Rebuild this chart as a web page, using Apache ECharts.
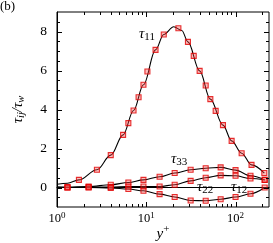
<!DOCTYPE html>
<html><head><meta charset="utf-8">
<script src="https://cdn.jsdelivr.net/npm/echarts@6/dist/echarts.min.js"></script>
<style>html,body{margin:0;padding:0;background:#fff}#c{width:273px;height:243px}</style>
</head><body><div id="c"></div>
<script>
// ---- data ----
const t11LineX = [1, 1.31, 1.76, 2.8, 4.0, 5.5, 7.2, 9.3, 12.7, 15.7, 20.3, 25, 29.3, 39.6, 52.2, 72.3, 90.4, 117, 151, 210];
const t11LineY = [0.17, 0.22, 0.39, 0.91, 1.66, 2.70, 3.95, 5.27, 7.06, 7.85, 8.24, 8.05, 7.47, 5.98, 4.53, 3.2, 2.39, 1.76, 1.16, 0.74];

const t11MarkX = [1.76, 2.8, 4.0, 5.5, 6.3, 7.2, 8.2, 9.3, 10.3, 12.7, 15.7, 22.9, 29.3, 34, 39.6, 46.3, 52.2, 59.9, 72.3, 90.4, 117, 151, 210];
const t11MarkY = [0.39, 0.91, 1.66, 2.70, 3.30, 3.95, 4.63, 5.27, 5.95, 7.06, 7.85, 8.17, 7.47, 6.75, 5.98, 5.23, 4.53, 3.93, 3.2, 2.39, 1.76, 1.16, 0.74];

const smallX   = [1.31, 2.26, 4.0, 6.3, 9.3, 14.1, 20.8, 31.4, 46.3, 68.1, 100, 147, 212];
const t33Vals  = [0.02, 0.05, 0.14, 0.26, 0.39, 0.55, 0.74, 0.91, 0.99, 1.03, 0.89, 0.6, 0.39];
const t22Vals  = [0, 0.02, 0.02, 0.05, 0.05, 0.05, 0.14, 0.34, 0.5, 0.62, 0.6, 0.46, 0.39];
const t12Vals  = [0, 0, -0.02, -0.08, -0.17, -0.34, -0.49, -0.67, -0.68, -0.6, -0.49, -0.32, 0];
const smallStart = {t33: 0.04, t22: 0.0, t12: 0.0}; // line values at y+ = 1

const xMajorTicks = [1, 10, 100];
const xMinorTicks = [2,3,4,5,6,7,8,9,20,30,40,50,60,70,80,90,200];
const yMajorTicks = [0, 2, 4, 6, 8];
const yMinorTicks = [-0.5,0.5,1,1.5,2.5,3,3.5,4.5,5,5.5,6.5,7,7.5,8.5];

// ---- build ----
const zip = (xs, ys) => xs.map((x, i) => [x, ys[i]]);
const FONT = '"Liberation Serif", "DejaVu Serif", serif';
const chart = echarts.init(document.getElementById('c'), null, {renderer: 'canvas'});

const tickData = []
  .concat(xMajorTicks.map(v => [v, 0, 0, 5]))
  .concat(xMinorTicks.map(v => [v, 0, 0, 3]))
  .concat(yMajorTicks.map(v => [10, v, 1, 5]))
  .concat(yMinorTicks.map(v => [10, v, 1, 3]));

function lineSeries(data) {
  return {type: 'line', data, smooth: 0.35, smoothMonotone: 'x', showSymbol: false, symbol: 'none',
    lineStyle: {color: '#000', width: 1.1}, z: 3, silent: true};
}
function markSeries(data) {
  return {type: 'scatter', data, symbol: 'rect', symbolSize: 5,
    itemStyle: {color: 'rgba(255,70,70,0.45)', borderColor: '#e00000', borderWidth: 1.1}, z: 4, silent: true};
}
const tauLabel = (sub) => ({text: '{t|τ}{s|' + sub + '}', rich: {
  t: {fontFamily: FONT, fontStyle: 'italic', fontSize: 15, fill: '#000', color: '#000'},
  s: {fontFamily: FONT, fontSize: 11, fill: '#000', color: '#000', padding: [7, 0, 0, 0]}}});

chart.setOption({
  animation: false,
  grid: {left: 57, right: 4, top: 12, bottom: 36, show: true, borderColor: '#000', borderWidth: 1,
    containLabel: false, outerBoundsMode: 'none'},
  xAxis: {
    type: 'log', logBase: 10, min: 1, max: 237,
    axisLine: {show: true, lineStyle: {color: '#000', width: 1}},
    axisTick: {show: false}, splitLine: {show: false}, minorTick: {show: false},
    axisLabel: {
      margin: 4, showMaxLabel: false, color: '#000', fontFamily: FONT, fontSize: 12.5,
      formatter: v => { const e = Math.log10(v); return Math.abs(e - Math.round(e)) < 1e-6 ? '10{s|' + Math.round(e) + '}' : ''; },
      rich: {s: {fontSize: 9, verticalAlign: 'bottom', padding: [0, 0, 7, 0], fontFamily: FONT, color: '#000'}}
    },
    name: '{i|y}{s|+}', nameLocation: 'middle', nameGap: 17, nameMoveOverlap: false,
    nameTextStyle: {color: '#000', rich: {
      i: {fontFamily: FONT, fontStyle: 'italic', fontSize: 15, color: '#000'},
      s: {fontFamily: FONT, fontSize: 11, padding: [0, 0, 9, 0], color: '#000'}}}
  },
  yAxis: {
    type: 'value', min: -1, max: 9, interval: 1,
    axisLine: {show: true, lineStyle: {color: '#000', width: 1}},
    axisTick: {show: false}, splitLine: {show: false},
    axisLabel: {margin: 10, color: '#000', fontFamily: FONT, fontSize: 13.5,
      formatter: v => (v >= 0 && v % 2 === 0) ? String(v) : ''},
    name: '{t|τ}{s|ij}{t|/τ}{s|w}', nameLocation: 'middle', nameGap: 30, nameRotate: 90, nameMoveOverlap: false,
    nameTextStyle: {color: '#000', rich: {
      t: {fontFamily: FONT, fontStyle: 'italic', fontSize: 15, color: '#000'},
      s: {fontFamily: FONT, fontStyle: 'italic', fontSize: 10.5, padding: [6, 0, 0, 0], color: '#000'}}}
  },
  series: [
    {type: 'custom', data: tickData, encode: {x: 0, y: 1}, clip: false, silent: true, z: 5,
      renderItem: function (params, api) {
        const cs = params.coordSys;
        const kind = api.value(2), len = api.value(3);
        const st = {stroke: '#000', lineWidth: 1};
        if (kind === 0) {
          const px = Math.round(api.coord([api.value(0), 1])[0]) + 0.5;
          return {type: 'group', children: [
            {type: 'line', shape: {x1: px, y1: cs.y + cs.height, x2: px, y2: cs.y + cs.height - len}, style: st},
            {type: 'line', shape: {x1: px, y1: cs.y, x2: px, y2: cs.y + len}, style: st}]};
        }
        const py = Math.round(api.coord([10, api.value(1)])[1]) + 0.5;
        return {type: 'group', children: [
          {type: 'line', shape: {x1: cs.x, y1: py, x2: cs.x + len, y2: py}, style: st},
          {type: 'line', shape: {x1: cs.x + cs.width, y1: py, x2: cs.x + cs.width - len, y2: py}, style: st}]};
      }},
    lineSeries(zip(t11LineX, t11LineY)),
    lineSeries([[1, smallStart.t33]].concat(zip(smallX, t33Vals))),
    lineSeries([[1, smallStart.t22]].concat(zip(smallX, t22Vals))),
    lineSeries([[1, smallStart.t12]].concat(zip(smallX, t12Vals))),
    markSeries(zip(t11MarkX, t11MarkY)),
    markSeries(zip(smallX, t33Vals)),
    markSeries(zip(smallX, t22Vals)),
    markSeries(zip(smallX, t12Vals))
  ],
  graphic: [
    {type: 'text', left: 0, top: 0, style: {text: '(b)', font: '13px ' + FONT, fill: '#000'}},
    {type: 'text', x: 139, y: 25, style: tauLabel('11')},
    {type: 'text', x: 171, y: 150, style: tauLabel('33')},
    {type: 'text', x: 197, y: 178, style: tauLabel('22')},
    {type: 'text', x: 231, y: 178, style: tauLabel('12')}
  ]
});
</script></body></html>
